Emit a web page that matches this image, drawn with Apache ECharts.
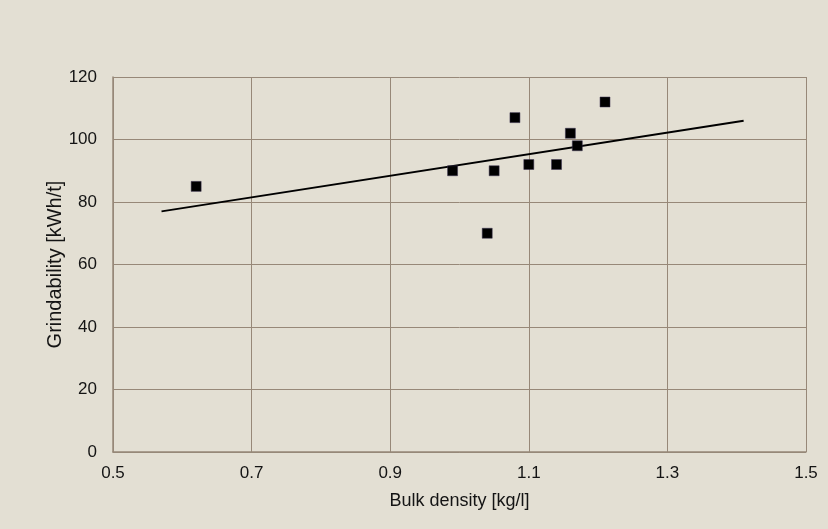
<!DOCTYPE html>
<html>
<head>
<meta charset="utf-8">
<script src="https://cdn.jsdelivr.net/npm/echarts@6/dist/echarts.min.js"></script>
<style>
  html, body { margin: 0; padding: 0; background: #e3dfd3; }
  #chart { width: 828px; height: 529px; }
</style>
</head>
<body>
<div id="chart"></div>
<script>
"use strict";
// measured samples: bulk density [kg/l] vs grindability [kWh/t]
const density = [0.62, 0.99, 1.04, 1.05, 1.08, 1.10, 1.14, 1.16, 1.17, 1.21];
const grindability = [85, 90, 70, 90, 107, 92, 92, 102, 98, 112];
// trend line end points as drawn
const trendX = [0.57, 1.41];
const trendY = [77, 106];

const points = density.map((d, i) => [d, grindability[i]]);
const trend = trendX.map((d, i) => [d, trendY[i]]);

const gridColor = '#978878';
const textColor = '#141414';
const font = 'Liberation Sans, Arial, sans-serif';

const chart = echarts.init(document.getElementById('chart'));
chart.setOption({
    backgroundColor: '#e3dfd3',
    animation: false,
    grid: { left: 113, right: 22, top: 77, bottom: 77 },
    xAxis: {
        type: 'value',
        min: 0.5,
        max: 1.5,
        interval: 0.2,
        name: 'Bulk density [kg/l]',
        nameLocation: 'middle',
        nameGap: 40,
        nameMoveOverlap: false,
        nameTextStyle: { color: textColor, fontSize: 18, fontFamily: font },
        axisLine: { show: true, lineStyle: { color: gridColor, width: 1.5 } },
        axisTick: { show: false },
        axisLabel: {
            color: textColor, fontSize: 17, fontFamily: font, margin: 13,
            formatter: v => v.toFixed(1)
        },
        splitLine: { show: true, lineStyle: { color: gridColor, width: 1 } }
    },
    yAxis: {
        type: 'value',
        min: 0,
        max: 120,
        interval: 20,
        name: 'Grindability [kWh/t]',
        nameLocation: 'middle',
        nameGap: 48,
        nameMoveOverlap: false,
        nameTextStyle: { color: textColor, fontSize: 20, fontFamily: font },
        axisLine: { show: true, lineStyle: { color: gridColor, width: 1.5 } },
        axisTick: { show: false },
        axisLabel: { color: textColor, fontSize: 17, fontFamily: font, margin: 16 },
        splitLine: { show: true, lineStyle: { color: gridColor, width: 1 } }
    },
    series: [
        {
            type: 'line',
            data: trend,
            symbol: 'none',
            lineStyle: { color: '#000', width: 2 },
            z: 2
        },
        {
            type: 'scatter',
            data: points,
            symbol: 'rect',
            symbolSize: 10,
            itemStyle: { color: '#000', opacity: 1, borderColor: '#3a3050', borderWidth: 0.5 },
            z: 3
        }
    ]
});
</script>
</body>
</html>
